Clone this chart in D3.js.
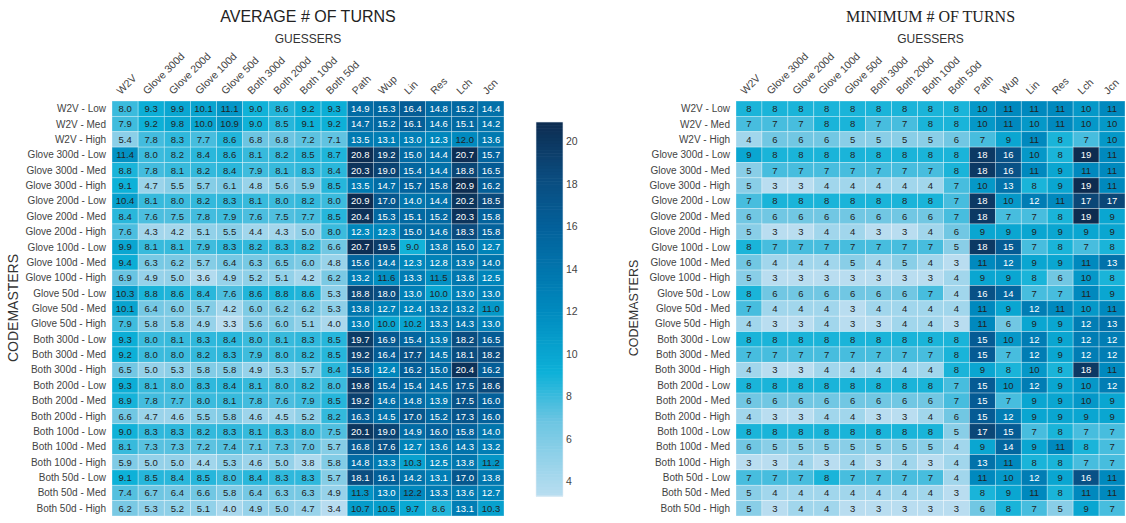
<!DOCTYPE html>
<html lang="en">
<head>
<meta charset="UTF-8">
<title>Turns heatmaps</title>
<style>
  body { margin: 0; background: #fff; }
  svg { font-family: "Liberation Sans", Arial, sans-serif; }
  .lbl { fill: #444; font-size: 10px; }
  .col-lbl { fill: #444; font-size: 10.5px; }
  .cell-txt { font-size: 9.5px; }
</style>
</head>
<body>
<div id="chart"></div>
<script src="https://d3js.org/d3.v7.min.js"></script>
<script>
// guessers (columns) and codemasters (rows)
var guessers = ["W2V", "Glove 300d", "Glove 200d", "Glove 100d", "Glove 50d", "Both 300d", "Both 200d",
  "Both 100d", "Both 50d", "Path", "Wup", "Lin", "Res", "Lch", "Jcn"];
var codemasters = ["W2V - Low", "W2V - Med", "W2V - High",
  "Glove 300d - Low", "Glove 300d - Med", "Glove 300d - High",
  "Glove 200d - Low", "Glove 200d - Med", "Glove 200d - High",
  "Glove 100d - Low", "Glove 100d - Med", "Glove 100d - High",
  "Glove 50d - Low", "Glove 50d - Med", "Glove 50d - High",
  "Both 300d - Low", "Both 300d - Med", "Both 300d - High",
  "Both 200d - Low", "Both 200d - Med", "Both 200d - High",
  "Both 100d - Low", "Both 100d - Med", "Both 100d - High",
  "Both 50d - Low", "Both 50d - Med", "Both 50d - High"];

var avgTurns = [
  [8.0, 9.3, 9.9, 10.1, 11.1, 9.0, 8.6, 9.2, 9.3, 14.9, 15.3, 16.4, 14.8, 15.2, 14.4],
  [7.9, 9.2, 9.8, 10.0, 10.9, 9.0, 8.5, 9.1, 9.2, 14.7, 15.2, 16.1, 14.6, 15.1, 14.2],
  [5.4, 7.8, 8.3, 7.7, 8.6, 6.8, 6.8, 7.2, 7.1, 13.5, 13.1, 13.0, 12.3, 12.0, 13.6],
  [11.4, 8.0, 8.2, 8.4, 8.6, 8.1, 8.2, 8.5, 8.7, 20.8, 19.2, 15.0, 14.4, 20.7, 15.7],
  [8.8, 7.8, 8.1, 8.2, 8.4, 7.9, 8.1, 8.3, 8.4, 20.3, 19.0, 15.4, 14.4, 18.8, 16.5],
  [9.1, 4.7, 5.5, 5.7, 6.1, 4.8, 5.6, 5.9, 8.5, 13.5, 14.7, 15.7, 15.8, 20.9, 16.2],
  [10.4, 8.1, 8.0, 8.2, 8.3, 8.1, 8.0, 8.2, 8.0, 20.9, 17.0, 14.0, 14.4, 20.2, 18.5],
  [8.4, 7.6, 7.5, 7.8, 7.9, 7.6, 7.5, 7.7, 8.5, 20.4, 15.3, 15.1, 15.2, 20.3, 15.8],
  [7.6, 4.3, 4.2, 5.1, 5.5, 4.4, 4.3, 5.0, 8.0, 12.3, 12.3, 15.0, 14.6, 18.3, 15.8],
  [9.9, 8.1, 8.1, 7.9, 8.3, 8.2, 8.3, 8.2, 6.6, 20.7, 19.5, 9.0, 13.8, 15.0, 12.7],
  [9.4, 6.3, 6.2, 5.7, 6.4, 6.3, 6.5, 6.0, 4.8, 15.6, 14.4, 12.3, 12.8, 13.9, 14.0],
  [6.9, 4.9, 5.0, 3.6, 4.9, 5.2, 5.1, 4.2, 6.2, 13.2, 11.6, 13.3, 11.5, 13.8, 12.5],
  [10.3, 8.8, 8.6, 8.4, 7.6, 8.6, 8.8, 8.6, 5.3, 18.8, 18.0, 13.0, 10.0, 13.0, 13.0],
  [10.1, 6.4, 6.0, 5.7, 4.2, 6.0, 6.2, 6.2, 5.3, 13.8, 12.7, 12.4, 13.2, 13.2, 11.0],
  [7.9, 5.8, 5.8, 4.9, 3.3, 5.6, 6.0, 5.1, 4.0, 13.0, 10.0, 10.2, 13.3, 14.3, 13.0],
  [9.3, 8.0, 8.1, 8.3, 8.4, 8.0, 8.1, 8.3, 8.5, 19.7, 16.9, 15.4, 13.9, 18.2, 16.5],
  [9.2, 8.0, 8.0, 8.2, 8.3, 7.9, 8.0, 8.2, 8.5, 19.2, 16.4, 17.7, 14.5, 18.1, 18.2],
  [6.5, 5.0, 5.3, 5.8, 5.8, 4.9, 5.3, 5.7, 8.4, 15.8, 12.4, 16.2, 15.0, 20.4, 16.2],
  [9.3, 8.1, 8.0, 8.3, 8.4, 8.1, 8.0, 8.2, 8.0, 19.8, 15.4, 15.4, 14.5, 17.5, 18.6],
  [8.9, 7.8, 7.7, 8.0, 8.1, 7.8, 7.6, 7.9, 8.5, 19.2, 14.6, 14.8, 13.9, 17.5, 16.0],
  [6.6, 4.7, 4.6, 5.5, 5.8, 4.6, 4.5, 5.2, 8.2, 16.3, 14.5, 17.0, 15.2, 17.3, 16.0],
  [9.0, 8.3, 8.3, 8.2, 8.3, 8.1, 8.3, 8.0, 7.5, 20.1, 19.0, 14.9, 16.0, 15.8, 14.0],
  [8.1, 7.3, 7.3, 7.2, 7.4, 7.1, 7.3, 7.0, 5.7, 16.8, 17.6, 12.7, 13.6, 14.3, 13.2],
  [5.9, 5.0, 5.0, 4.4, 5.3, 4.6, 5.0, 3.8, 5.8, 14.8, 13.3, 10.3, 12.5, 13.8, 11.2],
  [9.1, 8.5, 8.4, 8.5, 8.0, 8.4, 8.3, 8.3, 5.7, 18.1, 16.1, 14.2, 13.1, 17.0, 13.8],
  [7.4, 6.7, 6.4, 6.6, 5.8, 6.4, 6.3, 6.3, 4.9, 11.3, 13.0, 12.2, 13.3, 13.6, 12.7],
  [6.2, 5.3, 5.2, 5.1, 4.0, 4.9, 5.0, 4.7, 3.4, 10.7, 10.5, 9.7, 8.6, 13.1, 10.3]
];

var minTurns = [
  [8, 8, 8, 8, 8, 8, 8, 8, 8, 10, 11, 11, 11, 10, 11],
  [7, 7, 7, 8, 8, 7, 7, 8, 8, 10, 11, 10, 11, 10, 10],
  [4, 6, 6, 6, 5, 5, 5, 5, 6, 7, 9, 11, 8, 7, 10],
  [9, 8, 8, 8, 8, 8, 8, 8, 8, 18, 16, 10, 8, 19, 11],
  [5, 7, 7, 7, 7, 7, 7, 7, 8, 18, 16, 11, 9, 11, 11],
  [5, 3, 3, 4, 4, 4, 4, 4, 7, 10, 13, 8, 9, 19, 11],
  [7, 8, 8, 8, 8, 8, 8, 8, 7, 18, 10, 12, 11, 17, 17],
  [6, 6, 6, 6, 6, 6, 6, 6, 7, 18, 7, 7, 8, 19, 9],
  [5, 3, 3, 4, 4, 3, 3, 4, 6, 9, 9, 9, 9, 9, 9],
  [8, 7, 7, 7, 7, 7, 7, 7, 5, 18, 15, 7, 8, 7, 8],
  [6, 4, 4, 4, 5, 4, 5, 4, 3, 11, 12, 9, 9, 11, 13],
  [5, 3, 3, 3, 3, 3, 3, 3, 4, 9, 9, 8, 6, 10, 8],
  [8, 6, 6, 6, 6, 6, 6, 7, 4, 16, 14, 7, 7, 11, 9],
  [7, 4, 4, 4, 3, 4, 4, 4, 4, 11, 9, 12, 11, 10, 11],
  [4, 3, 3, 4, 3, 3, 4, 4, 3, 11, 6, 9, 9, 12, 13],
  [8, 8, 8, 8, 8, 8, 8, 8, 8, 15, 10, 12, 9, 12, 12],
  [7, 7, 7, 7, 7, 7, 7, 7, 8, 15, 7, 12, 9, 12, 12],
  [4, 3, 3, 4, 4, 4, 4, 4, 8, 9, 8, 10, 8, 18, 11],
  [8, 8, 8, 8, 8, 8, 8, 8, 7, 15, 10, 12, 9, 10, 12],
  [6, 6, 6, 6, 6, 6, 6, 6, 7, 15, 7, 9, 9, 10, 9],
  [4, 3, 3, 4, 4, 3, 3, 4, 6, 15, 12, 9, 9, 9, 9],
  [8, 8, 8, 8, 8, 8, 8, 8, 5, 17, 15, 7, 8, 7, 7],
  [6, 5, 5, 5, 5, 5, 5, 5, 4, 9, 14, 9, 11, 8, 7],
  [3, 3, 4, 3, 4, 3, 4, 3, 4, 13, 11, 8, 8, 7, 7],
  [7, 7, 7, 8, 7, 7, 7, 7, 4, 11, 10, 12, 9, 16, 11],
  [5, 4, 4, 4, 4, 4, 4, 4, 3, 8, 9, 11, 8, 11, 11],
  [5, 3, 4, 4, 3, 3, 3, 3, 3, 6, 8, 7, 5, 9, 7]
];

var colorbarTicks = [4, 6, 8, 10, 12, 14, 16, 18, 20];

// colour ramp, light -> dark
var rampStops = [0, 0.2, 0.33, 0.5, 0.72, 0.86, 1];
var rampColors = ["#b9ddf0", "#6cc5e2", "#0db1d8", "#0089be", "#03609a", "#0b4a7c", "#0d2c50"];

var W = 1126, H = 523;
var svg = d3.select("#chart").append("svg").attr("width", W).attr("height", H);

function makeColor(ext) {
  return d3.scaleLinear()
    .domain(rampStops.map(function (t) { return ext[0] + t * (ext[1] - ext[0]); }))
    .range(rampColors)
    .interpolate(d3.interpolateRgb);
}

function heatmap(opt) {
  var ext = d3.extent(d3.merge(opt.values));
  var color = makeColor(ext);
  var cut = ext[0] + 0.51 * (ext[1] - ext[0]);

  var x = d3.scaleBand().domain(guessers).range([opt.x0, opt.x1]);
  var y = d3.scaleBand().domain(codemasters).range([101, 516]);

  var cells = [];
  opt.values.forEach(function (row, i) {
    row.forEach(function (v, j) {
      cells.push({ r: codemasters[i], c: guessers[j], v: v });
    });
  });

  var g = svg.append("g");
  g.selectAll("rect").data(cells).enter().append("rect")
    .attr("x", function (d) { return x(d.c); })
    .attr("y", function (d) { return y(d.r); })
    .attr("width", x.bandwidth())
    .attr("height", y.bandwidth())
    .attr("fill", function (d) { return color(d.v); })
    .attr("stroke", "rgba(255,255,255,0.45)")
    .attr("stroke-width", 0.7);

  g.selectAll("text.cell-txt").data(cells).enter().append("text")
    .attr("class", "cell-txt")
    .attr("x", function (d) { return x(d.c) + x.bandwidth() / 2; })
    .attr("y", function (d) { return y(d.r) + y.bandwidth() / 2; })
    .attr("dy", "0.36em")
    .attr("text-anchor", "middle")
    .attr("fill", function (d) { return d.v > cut ? "#fff" : "#222"; })
    .text(function (d) { return opt.fmt(d.v); });

  // row labels
  g.selectAll("text.row").data(codemasters).enter().append("text")
    .attr("class", "lbl")
    .attr("x", opt.x0 - 6)
    .attr("y", function (d) { return y(d) + y.bandwidth() / 2; })
    .attr("dy", "0.35em")
    .attr("text-anchor", "end")
    .text(function (d) { return d; });

  // column labels
  g.selectAll("text.col").data(guessers).enter().append("text")
    .attr("class", "col-lbl")
    .attr("transform", function (d) {
      return "translate(" + (x(d) + x.bandwidth() / 2 - 4) + ",95) rotate(-45)";
    })
    .attr("text-anchor", "start")
    .text(function (d) { return d; });

  var cx = (opt.x0 + opt.x1) / 2;
  g.append("text")
    .attr("x", cx).attr("y", 22)
    .attr("text-anchor", "middle")
    .style("font-family", opt.titleFont)
    .style("font-size", "16px")
    .attr("fill", "#222")
    .text(opt.title);

  g.append("text")
    .attr("x", cx).attr("y", 43)
    .attr("text-anchor", "middle")
    .style("font-size", "12px")
    .attr("fill", "#333")
    .text("GUESSERS");

  g.append("text")
    .attr("transform", "translate(" + opt.yTitleX + ",308) rotate(-90)")
    .attr("text-anchor", "middle")
    .style("font-size", opt.yTitleSize)
    .attr("fill", "#333")
    .text("CODEMASTERS");

  return { color: color, ext: ext };
}

var left = heatmap({
  values: avgTurns, x0: 112, x1: 504, title: "AVERAGE # OF TURNS",
  titleFont: "'Liberation Sans', Arial, sans-serif",
  fmt: d3.format(".1f"), yTitleX: 18, yTitleSize: "14px"
});

heatmap({
  values: minTurns, x0: 736, x1: 1125, title: "MINIMUM # OF TURNS",
  titleFont: "'Liberation Serif', 'Times New Roman', serif",
  fmt: d3.format("d"), yTitleX: 638, yTitleSize: "12.5px"
});

// colorbar for the average map
var cb = svg.append("g");
var cbY = d3.scaleLinear().domain(left.ext).range([496, 122]);
var steps = d3.range(0, 120);
var stepH = (496 - 122) / steps.length;
cb.selectAll("rect").data(steps).enter().append("rect")
  .attr("x", 536)
  .attr("width", 27)
  .attr("y", function (i) { return 122 + i * stepH; })
  .attr("height", stepH + 0.6)
  .attr("fill", function (i) { return left.color(cbY.invert(122 + (i + 0.5) * stepH)); });
cb.append("rect")
  .attr("x", 536).attr("y", 122).attr("width", 27).attr("height", 374)
  .attr("fill", "none").attr("stroke", "#e8eef3").attr("stroke-width", 0.6);

cb.append("g")
  .attr("transform", "translate(563,0)")
  .call(d3.axisRight(cbY).tickValues(colorbarTicks).tickSize(0).tickPadding(3))
  .call(function (a) { a.select(".domain").remove(); })
  .selectAll("text")
  .style("font-size", "10.5px")
  .style("font-family", "'Liberation Sans', Arial, sans-serif")
  .attr("fill", "#444");
</script>
</body>
</html>
